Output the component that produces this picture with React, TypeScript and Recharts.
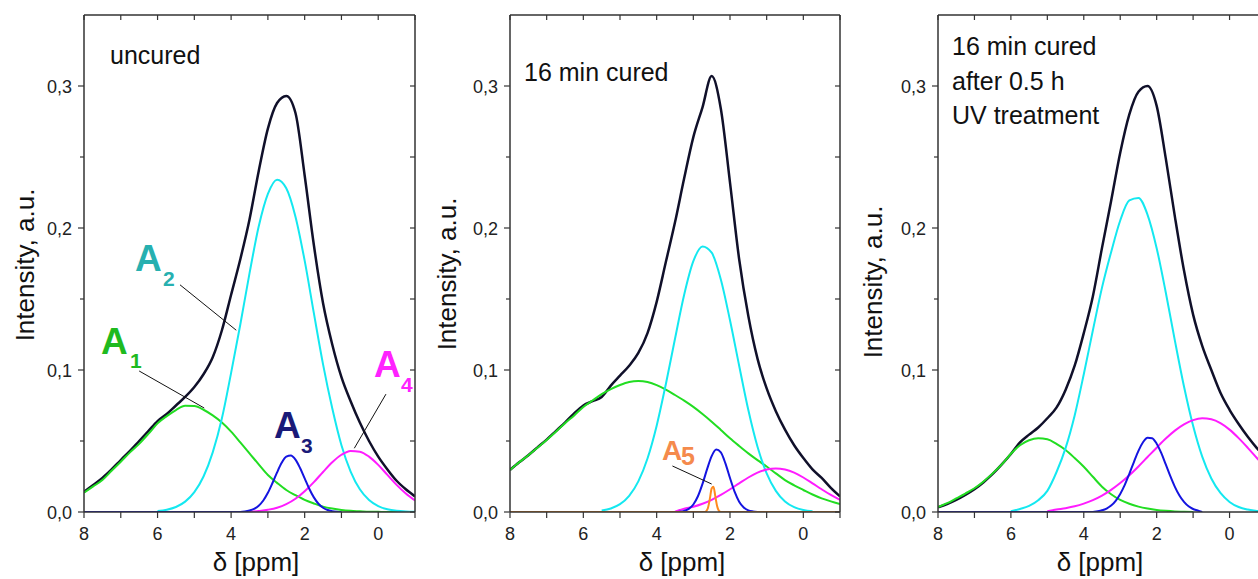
import React from "react";
import { LineChart, Line, XAxis, YAxis, ReferenceLine } from "recharts";

const _ = null;

// chemical shift grid (ppm) for the broad curves
const ppm = [8, 7.75, 7.5, 7.25, 7, 6.75, 6.5, 6.25, 6, 5.75, 5.5, 5.25, 5, 4.75, 4.5, 4.25, 4, 3.75, 3.5, 3.25, 3, 2.75, 2.5, 2.25, 2, 1.75, 1.5, 1.25, 1, 0.75, 0.5, 0.25, 0, -0.25, -0.5, -0.75, -1];
// finer grid for the narrow A3 line
const ppmFine = [8, 3.75, 3.625, 3.5, 3.375, 3.25, 3.125, 3, 2.875, 2.75, 2.625, 2.5, 2.375, 2.25, 2.125, 2, 1.875, 1.75, 1.625, 1.5, 1.375, 1.25, 1.125, 1, 0.875, 0.75];
// A5 is narrower still
const ppmA5 = [8, 2.7, 2.65, 2.6, 2.55, 2.5, 2.45, 2.4, 2.35, 2.3, 2.25, -1];

const xTicks = [8, 7, 6, 5, 4, 3, 2, 1, 0, -1];
const yTicks = [0, 0.05, 0.1, 0.15, 0.2, 0.25, 0.3];

// uncured
const uncuredTotal = [0.0143, 0.019, 0.024, 0.03, 0.0366, 0.043, 0.05, 0.057, 0.064, 0.069, 0.075, 0.081, 0.088, 0.097, 0.109, 0.128, 0.153, 0.178, 0.206, 0.24, 0.27, 0.288, 0.293, 0.281, 0.237, 0.188, 0.147, 0.118, 0.095, 0.078, 0.063, 0.05, 0.039, 0.03, 0.022, 0.016, 0.011];
const uncuredA1 = [0.0136, 0.018, 0.0225, 0.029, 0.0354, 0.042, 0.048, 0.055, 0.0624, 0.0675, 0.0718, 0.0748, 0.0746, 0.072, 0.068, 0.063, 0.0566, 0.049, 0.0413, 0.0335, 0.026, 0.0205, 0.0155, 0.0118, 0.0085, 0.006, 0.0038, 0.0024, 0.0014, 0.0008, 0.0005, 0.0002, 0.0001, 0, 0, 0, 0];
const uncuredA2 = [_, _, _, _, _, _, _, _, 0.0007, 0.0016, 0.0035, 0.0073, 0.014, 0.025, 0.042, 0.066, 0.098, 0.132, 0.168, 0.201, 0.224, 0.234, 0.228, 0.208, 0.177, 0.14, 0.104, 0.073, 0.047, 0.0285, 0.016, 0.0085, 0.0042, 0.0019, 0.0008, 0.0003, 0.0001];
const uncuredA3 = [0, 0, 0.0003, 0.001, 0.0022, 0.0044, 0.0081, 0.0135, 0.0204, 0.0279, 0.0346, 0.039, 0.0398, 0.0369, 0.031, 0.0237, 0.0164, 0.0103, 0.0058, 0.003, 0.0014, 0.0006, 0.0002, 0, _, _];
const uncuredA4 = [_, _, _, _, _, _, _, _, _, _, _, _, _, _, _, _, _, _, 0, 0.0007, 0.0016, 0.003, 0.0055, 0.0093, 0.0146, 0.021, 0.0282, 0.035, 0.0403, 0.043, 0.0425, 0.039, 0.0332, 0.0261, 0.0191, 0.013, 0.0081];

// 16 min cured
const curedTotal = [0.0296, 0.035, 0.04, 0.0455, 0.051, 0.057, 0.063, 0.0695, 0.075, 0.078, 0.081, 0.089, 0.096, 0.103, 0.112, 0.126, 0.148, 0.176, 0.204, 0.235, 0.264, 0.285, 0.307, 0.284, 0.232, 0.178, 0.138, 0.108, 0.087, 0.071, 0.058, 0.047, 0.038, 0.03, 0.024, 0.017, 0.011];
const curedA1 = [0.0296, 0.035, 0.04, 0.0453, 0.0507, 0.0565, 0.0625, 0.068, 0.074, 0.0785, 0.083, 0.0866, 0.0894, 0.0915, 0.0922, 0.0915, 0.0894, 0.0862, 0.0824, 0.0784, 0.074, 0.069, 0.0636, 0.0578, 0.0519, 0.0465, 0.0413, 0.0365, 0.032, 0.0272, 0.0225, 0.0188, 0.0155, 0.0123, 0.0096, 0.0075, 0.0056];
const curedA2 = [_, _, _, _, _, _, _, _, _, _, 0.001, 0.0025, 0.0055, 0.0114, 0.0216, 0.0377, 0.0608, 0.09, 0.122, 0.153, 0.1766, 0.187, 0.1826, 0.1638, 0.135, 0.103, 0.0718, 0.046, 0.0272, 0.0149, 0.0074, 0.0034, 0.0014, 0.0005, _, _, _];
const curedA3 = [_, _, _, 0, 0.0002, 0.0008, 0.0022, 0.0053, 0.0111, 0.0198, 0.0302, 0.0394, 0.044, 0.042, 0.0342, 0.0239, 0.0143, 0.0073, 0.0032, 0.0012, 0.0004, 0, _, _, _, _];
const curedA4 = [_, _, _, _, _, _, _, _, _, _, _, _, _, _, _, _, _, _, 0.0003, 0.0023, 0.0037, 0.0058, 0.0086, 0.012, 0.016, 0.0202, 0.0243, 0.0277, 0.0299, 0.0307, 0.0299, 0.0277, 0.0243, 0.0202, 0.016, 0.012, 0.0086];
const curedA5 = [0, 0, 0.0005, 0.003, 0.0092, 0.0166, 0.0178, 0.011, 0.004, 0.0008, 0, 0];

// 16 min cured, after 0.5 h UV
const uvTotal = [0.0033, 0.0056, 0.0085, 0.012, 0.016, 0.021, 0.0268, 0.0335, 0.0408, 0.049, 0.0545, 0.0595, 0.066, 0.0735, 0.086, 0.103, 0.126, 0.152, 0.186, 0.219, 0.253, 0.28, 0.296, 0.3, 0.286, 0.249, 0.208, 0.17, 0.139, 0.117, 0.1, 0.084, 0.072, 0.062, 0.053, 0.045, 0.038];
const uvA1 = [0.0035, 0.0062, 0.0096, 0.013, 0.0167, 0.0215, 0.0272, 0.0335, 0.041, 0.047, 0.0505, 0.0519, 0.0512, 0.048, 0.0437, 0.038, 0.0319, 0.0248, 0.0178, 0.0125, 0.0085, 0.0058, 0.0038, 0.0024, 0.0014, 0.0008, 0.0004, 0.0002, 0, _, _, _, _, _, _, _, _];
const uvA2 = [_, _, _, _, _, _, _, _, 0.0005, 0.0021, 0.0043, 0.0083, 0.0149, 0.028, 0.045, 0.068, 0.097, 0.128, 0.158, 0.183, 0.2053, 0.2194, 0.2212, 0.2093, 0.1858, 0.1546, 0.1207, 0.0884, 0.0607, 0.039, 0.0236, 0.0134, 0.0071, 0.0035, 0.0017, 0.0007, 0.0003];
const uvA3 = [0, 0, 0.0005, 0.0012, 0.0024, 0.0045, 0.0079, 0.0127, 0.0191, 0.0269, 0.0352, 0.0431, 0.0491, 0.0523, 0.052, 0.0481, 0.0416, 0.0335, 0.0252, 0.0177, 0.0116, 0.0071, 0.004, 0.0021, 0.0011, 0];
const uvA4 = [_, _, _, _, _, _, _, _, _, _, _, _, 0.0005, 0.0017, 0.0027, 0.004, 0.0059, 0.0084, 0.0116, 0.0156, 0.0204, 0.0259, 0.0321, 0.0387, 0.0453, 0.0517, 0.0573, 0.0617, 0.0647, 0.066, 0.0653, 0.0626, 0.058, 0.052, 0.0452, 0.038, 0.0308];

// leader lines for the peak labels, in data units [x1, y1, x2, y2]
const uncuredLeaders = [
  [5.39, 0.16, 3.86, 0.128],
  [6.5, 0.0993, 4.73, 0.0732],
  [-0.21, 0.083, 0.65, 0.0449],
];
const curedLeaders = [[3.57, 0.0324, 2.5, 0.0197]];

const colors = { total: "#10102a", a1: "#22dd22", a2: "#14e8f0", a3: "#1414e0", a4: "#ff1cff", a5: "#ff8a1e" };
const axisColor = "#333";
const font = "'Liberation Sans', Arial, sans-serif";

const rowsOf = (total: any[], a1: any[], a2: any[], a4: any[]) =>
  ppm.map((x, i) => ({ x, total: total[i], a1: a1[i], a2: a2[i], a4: a4[i] }));
const pairs = (grid: number[], vals: any[]) => grid.map((x, i) => ({ x, y: vals[i] }));

function BottomTick({ x, y, payload }: any) {
  const v = payload.value;
  return (
    <g>
      <line x1={x} y1={y} x2={x} y2={y + 6} stroke={axisColor} strokeWidth={1.2} />
      {v % 2 === 0 && (
        <text x={x} y={y + 28} textAnchor="middle" fontSize={18} fill="#222" fontFamily={font}>
          {v}
        </text>
      )}
    </g>
  );
}

function TopTick({ x, y }: any) {
  return <line x1={x} y1={y} x2={x} y2={y + 5} stroke={axisColor} strokeWidth={1.2} />;
}

function LeftTick({ x, y, payload }: any) {
  const v = payload.value;
  const major = Math.round(v * 100) % 10 === 0;
  return (
    <g>
      <line x1={x - (major ? 6 : 4)} y1={y} x2={x} y2={y} stroke={axisColor} strokeWidth={1.2} />
      {major && (
        <text x={x - 12} y={y + 6.5} textAnchor="end" fontSize={18} fill="#222" fontFamily={font}>
          {v.toFixed(1).replace(".", ",")}
        </text>
      )}
    </g>
  );
}

function RightTick({ x, y }: any) {
  return <line x1={x - 5} y1={y} x2={x} y2={y} stroke={axisColor} strokeWidth={1.2} />;
}

function Panel({ left, yw, width, rows, a3, a5, leaders }: any) {
  return (
    <div style={{ position: "absolute", left, top: 0 }}>
      <LineChart width={width} height={579} data={rows} margin={{ top: 14, right: 0, bottom: 0, left: 0 }}>
        <XAxis dataKey="x" type="number" domain={[-1, 8]} reversed ticks={xTicks} interval={0} allowDataOverflow
          height={67} tickSize={0} tickMargin={0} tickLine={false} tick={BottomTick} axisLine={{ stroke: axisColor, strokeWidth: 1.5 }} />
        <XAxis xAxisId="top" orientation="top" dataKey="x" type="number" domain={[-1, 8]} reversed ticks={xTicks} interval={0} allowDataOverflow
          height={1} tickSize={0} tickMargin={0} tickLine={false} tick={TopTick} axisLine={{ stroke: axisColor, strokeWidth: 1.5 }} />
        <YAxis type="number" domain={[0, 0.35]} ticks={yTicks} interval={0} allowDataOverflow width={yw}
          tickSize={0} tickMargin={0} tickLine={false} tick={LeftTick} axisLine={{ stroke: axisColor, strokeWidth: 1.5 }} />
        <YAxis yAxisId="right" orientation="right" type="number" domain={[0, 0.35]} ticks={yTicks} interval={0} allowDataOverflow width={1}
          tickSize={0} tickMargin={0} tickLine={false} tick={RightTick} axisLine={{ stroke: axisColor, strokeWidth: 1.5 }} />
        {/* invisible copy of the total, only so the mirrored top/right axes get drawn */}
        <Line xAxisId="top" yAxisId="right" type="monotone" dataKey="total" stroke="none" strokeOpacity={0} dot={false} activeDot={false} isAnimationActive={false} />
        <Line type="monotone" dataKey="total" stroke={colors.total} strokeWidth={2.5} dot={false} isAnimationActive={false} />
        <Line type="monotone" dataKey="a1" stroke={colors.a1} strokeWidth={2} dot={false} isAnimationActive={false} />
        <Line type="monotone" dataKey="a2" stroke={colors.a2} strokeWidth={2} dot={false} isAnimationActive={false} />
        <Line type="monotone" dataKey="a4" stroke={colors.a4} strokeWidth={2} dot={false} isAnimationActive={false} />
        <Line type="monotone" data={a3} dataKey="y" stroke={colors.a3} strokeWidth={2} dot={false} isAnimationActive={false} />
        {a5 && <Line type="monotone" data={a5} dataKey="y" stroke={colors.a5} strokeWidth={2} dot={false} isAnimationActive={false} />}
        {leaders.map((s: number[], i: number) => (
          <ReferenceLine key={i} segment={[{ x: s[0], y: s[1] }, { x: s[2], y: s[3] }]} stroke="#111" strokeWidth={1} ifOverflow="visible" />
        ))}
      </LineChart>
    </div>
  );
}

function Labels() {
  const t = { fontFamily: font, fill: "#111" };
  const big = { fontFamily: font, fontWeight: 700 };
  return (
    <svg width={1258} height={579} style={{ position: "absolute", left: 0, top: 0, pointerEvents: "none" }}>
      <text {...t} fontSize={26} textAnchor="middle" dominantBaseline="central" transform="translate(25,265) rotate(-90)">Intensity, a.u.</text>
      <text {...t} fontSize={26} textAnchor="middle" dominantBaseline="central" transform="translate(447,274) rotate(-90)">Intensity, a.u.</text>
      <text {...t} fontSize={26} textAnchor="middle" dominantBaseline="central" transform="translate(873,282) rotate(-90)">Intensity, a.u.</text>
      <text {...t} fontSize={26} textAnchor="middle" x={256} y={571}>δ [ppm]</text>
      <text {...t} fontSize={26} textAnchor="middle" x={682} y={571}>δ [ppm]</text>
      <text {...t} fontSize={26} textAnchor="middle" x={1100} y={571}>δ [ppm]</text>

      <text {...t} fontSize={25} x={110} y={64}>uncured</text>
      <text {...t} fontSize={25} x={524} y={81}>16 min cured</text>
      <text {...t} fontSize={25} x={952} y={55}>16 min cured</text>
      <text {...t} fontSize={25} x={952} y={90}>after 0.5 h</text>
      <text {...t} fontSize={25} x={952} y={124}>UV treatment</text>

      <text {...big} fill="#27b0b0" fontSize={37} x={135} y={271}>A</text>
      <text {...big} fill="#27b0b0" fontSize={21} x={163} y={286}>2</text>
      <text {...big} fill="#1fba1f" fontSize={37} x={101} y={354}>A</text>
      <text {...big} fill="#1fba1f" fontSize={21} x={130} y={368}>1</text>
      <text {...big} fill="#1a1a78" fontSize={37} x={274} y={438}>A</text>
      <text {...big} fill="#1a1a78" fontSize={21} x={301} y={453}>3</text>
      <text {...big} fill="#ff22ff" fontSize={37} x={374} y={377}>A</text>
      <text {...big} fill="#ff22ff" fontSize={21} x={401} y={392}>4</text>
      <text {...big} fill="#f58a4c" fontSize={28} x={662} y={460}>A</text>
      <text {...big} fill="#f58a4c" fontSize={25} x={681} y={465}>5</text>
    </svg>
  );
}

export default function App() {
  return (
    <div style={{ position: "fixed", left: 0, top: 0, width: 1258, height: 579, overflow: "hidden", background: "#fff" }}>
      <Panel left={0} yw={84} width={416} rows={rowsOf(uncuredTotal, uncuredA1, uncuredA2, uncuredA4)}
        a3={pairs(ppmFine, uncuredA3)} leaders={uncuredLeaders} />
      <Panel left={420} yw={90} width={421} rows={rowsOf(curedTotal, curedA1, curedA2, curedA4)}
        a3={pairs(ppmFine, curedA3)} a5={pairs(ppmA5, curedA5)} leaders={curedLeaders} />
      <Panel left={850} yw={88} width={417} rows={rowsOf(uvTotal, uvA1, uvA2, uvA4)}
        a3={pairs(ppmFine, uvA3)} leaders={[]} />
      <Labels />
    </div>
  );
}
